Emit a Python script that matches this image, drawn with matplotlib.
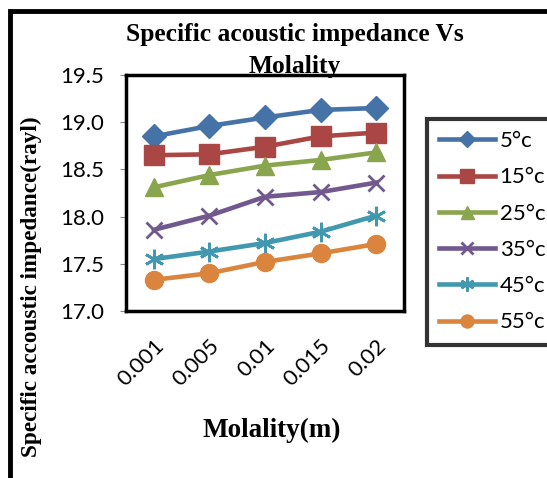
import matplotlib
matplotlib.use("Agg")
import matplotlib.pyplot as plt
from matplotlib.patches import Rectangle
import matplotlib.transforms as mtransforms

categories = ["0.001", "0.005", "0.01", "0.015", "0.02"]
series_labels = ["5°c", "15°c", "25°c", "35°c", "45°c", "55°c"]
s5 = [18.85, 18.96, 19.05, 19.13, 19.15]
s15 = [18.65, 18.66, 18.74, 18.85, 18.89]
s25 = [18.31, 18.44, 18.54, 18.60, 18.68]
s35 = [17.86, 18.01, 18.21, 18.26, 18.36]
s45 = [17.55, 17.63, 17.72, 17.84, 18.01]
s55 = [17.33, 17.40, 17.52, 17.61, 17.71]
yticks = [17.0, 17.5, 18.0, 18.5, 19.0, 19.5]

colors = ["#4572A7", "#AA4643", "#89A54E", "#71588F", "#4198AF", "#DB843D"]
markers = ["D", "s", "^", "x", (6, 2, 0), "o"]
msizes = [12, 14, 13, 12, 14, 13]

W, H = 547, 478
fig = plt.figure(figsize=(W / 100, H / 100), dpi=100)
ax = fig.add_axes([126 / W, 1 - 311 / H, 278 / W, 236 / H])

xs = list(range(len(categories)))
for vals, lab, c, m, ms in zip([s5, s15, s25, s35, s45, s55], series_labels, colors, markers, msizes):
    ax.plot(xs, vals, color=c, lw=3.3, marker=m, ms=ms, mec=c, mfc=c,
            mew=2 if m in ("x", (6, 2, 0)) else 1, label=lab)

ax.set_xlim(-0.5, len(categories) - 0.5)
ax.set_ylim(17.0, 19.5)
ax.set_yticks(yticks)
ax.set_yticklabels([f"{v:.1f}" for v in yticks], fontsize=16, family="Lato")
ax.set_xticks(xs)
ax.set_xticklabels(categories, fontsize=16, family="Lato", rotation=45,
                   ha="right", va="top", rotation_mode="anchor")
offset = mtransforms.ScaledTranslation(7 / 100, 0, fig.dpi_scale_trans)
for lbl in ax.get_xticklabels():
    lbl.set_transform(lbl.get_transform() + offset)
ax.tick_params(axis="x", length=0, pad=18)
ax.tick_params(axis="y", length=4, color="#888888", direction="out", pad=12)
for sp in ax.spines.values():
    sp.set_linewidth(2.5)
    sp.set_color("black")

fig.text(272 / W, 1 - 430 / H, "Molality(m)", family="Liberation Serif", fontweight="bold",
         fontsize=19.5, ha="center", va="center")
fig.text(31 / W, 1 - 287 / H, "Specific accoustic impedance(rayl)", family="Liberation Serif",
         fontweight="bold", fontsize=16.7, rotation=90, ha="center", va="center")
fig.text(295 / W, 1 - 35 / H, "Specific acoustic impedance Vs", family="Liberation Serif",
         fontweight="bold", fontsize=18.4, ha="center", va="center")
fig.text(295 / W, 1 - 66 / H, "Molality", family="Liberation Serif",
         fontweight="bold", fontsize=18.4, ha="center", va="center")

leg = fig.legend(loc="upper left", bbox_to_anchor=(427 / W, 1 - 119 / H), borderaxespad=0,
                 prop={"family": "Lato", "size": 16}, frameon=True, fancybox=False,
                 handlelength=2.5, labelspacing=0.73, handletextpad=0.22, borderpad=0.55,
                 markerscale=0.72)
leg.get_frame().set_edgecolor("black")
leg.get_frame().set_linewidth(3)

fig.patches.append(Rectangle((10 / W, -0.1), 1.2, 1 - 11 / H + 0.1, transform=fig.transFigure,
                             fill=False, ec="black", lw=3.5))

fig.savefig("out.png", dpi=100)
